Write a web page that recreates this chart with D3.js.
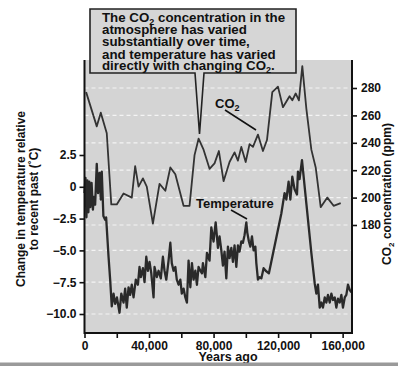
<!DOCTYPE html>
<html><head><meta charset="utf-8">
<script src="https://cdn.jsdelivr.net/npm/d3@7/dist/d3.min.js"></script>
<style>
body{margin:0;background:#fff;}
svg{display:block;font-family:"Liberation Sans",Arial,Helvetica,sans-serif;font-weight:bold;}
</style></head>
<body>
<svg id="c" width="398" height="366"></svg>
<script>
// ---------- data ----------
const co2Years = [1000, 7600, 10100, 13800, 16600, 20000, 24200, 29300, 31400, 33500, 36200, 38600, 42400, 46500, 50100, 53200, 56300, 61400, 65100, 68200, 70700, 73800, 77500, 80600, 83300, 86200, 89900, 93000, 95100, 97200, 99900, 102300, 104400, 107500, 110600, 113100, 116400, 119900, 123000, 127100, 128800, 130900, 132900, 135000, 137500, 140600, 143300, 146400, 150500, 154400, 158800];
const co2Values = [277, 252, 262, 247, 195, 195, 203, 200, 223, 208, 214, 208, 181, 210, 205, 222, 217, 194, 194, 231, 243, 235, 221, 225, 234, 212, 226, 233, 227, 237, 226, 239, 237, 246, 234, 242, 277, 281, 266, 274, 271, 276, 271, 296, 265, 235, 222, 193, 200, 194, 196];

const tempYears = [0, 600, 1200, 1800, 2400, 3000, 3600, 4400, 5200, 5800,
 6600, 7600, 8400, 9300, 10100, 10700, 11700, 12800, 13400, 14900,
 15900, 16900, 18000, 19000, 20100, 21700, 22800, 24200, 25200, 26200,
 27300, 28300, 29300, 30400, 31800, 33100, 34100, 34900, 36200, 37200,
 38300, 39300, 40300, 41400, 42800, 43400, 44800, 45900, 47300, 48600,
 49600, 50700, 52100, 53200, 54100, 55200, 56300, 57200, 58300, 59400,
 60300, 61400, 62500, 63500, 64500, 65600, 66600, 67600, 68700, 69700,
 70700, 71800, 72800, 73400, 74900, 75900, 77500, 78600, 80000, 81300,
 82700, 83700, 84800, 85800, 86800, 87900, 88900, 89900, 91000, 92000,
 93000, 94100, 95100, 96100, 97200, 98200, 99200, 100300, 100900, 101900,
 102800, 103800, 104800, 105900, 106500, 107500, 108500, 109600, 111000, 112300,
 114300, 122000, 124000, 125100, 126500, 127600, 128800, 130200, 131700, 132300,
 133300, 134800, 137500, 140600, 142700, 143700, 144700, 145800, 146800, 147800,
 148900, 149900, 150900, 152000, 153000, 154000, 155100, 156100, 157100, 158200,
 159200, 160200, 161300, 162300, 163300, 164400, 165400];
const tempValues = [-0.5, 0.7, -2.4, 0.5, -2.0, 0.4, -1.6, 0.3, -1.8, -0.8,
 -1.4, 1.8, -0.5, 1.1, -1.0, 1.2, -2.3, -2.6, -2.4, -5.5,
 -7.3, -9.4, -8.4, -9.2, -8.7, -9.9, -8.4, -9.1, -8.0, -9.5,
 -7.9, -8.5, -7.7, -8.7, -7.3, -7.7, -6.3, -7.1, -6.4, -7.5,
 -5.5, -6.6, -5.9, -6.8, -8.7, -6.3, -7.1, -6.6, -7.2, -5.5,
 -6.6, -7.3, -5.8, -4.4, -6.0, -6.6, -6.3, -7.3, -7.7, -7.3,
 -8.4, -8.0, -8.7, -9.1, -5.8, -7.9, -6.0, -7.3, -6.6, -7.7,
 -6.3, -6.6, -6.8, -6.0, -7.1, -5.2, -5.8, -3.2, -4.3, -2.8,
 -4.8, -3.9, -5.0, -6.2, -5.1, -7.2, -4.7, -5.6, -4.8, -5.9,
 -4.6, -6.3, -4.6, -5.1, -4.3, -4.4, -3.8, -2.8, -3.6, -4.3,
 -4.7, -3.9, -5.0, -4.7, -6.0, -7.3, -7.1, -7.2, -6.4, -6.6,
 -6.8, -2.1, -0.5, -1.0, 0.4, -1.0, 0.8, -0.2, -0.6, 1.2,
 0.6, 2.1, -1.3, -5.2, -7.6, -8.4, -7.7, -9.5, -9.1, -9.5,
 -8.7, -9.1, -8.5, -9.1, -8.4, -8.9, -8.7, -9.5, -8.8, -9.1,
 -8.5, -9.5, -8.7, -8.5, -7.7, -8.1, -8.3];

const xTicks = [0, 20000, 40000, 60000, 80000, 100000, 120000, 140000, 160000];
const xLabelTicks = [0, 40000, 80000, 120000, 160000];
const tempTicks = [2.5, 0, -2.5, -5, -7.5, -10];
const co2Ticks = [280, 260, 240, 220, 200, 180];
const gridTemp = [-5, -7.5, -10];
const calloutLines = [["The CO", "2", " concentration in the"], ["atmosphere has varied"], ["substantially over time,"], ["and temperature has varied"], ["directly with changing CO", "2", "."]];

// ---------- layout ----------
const L = 84.5, R = 352, T = 60, B = 333;
const svg = d3.select("#c");
const x = d3.scaleLinear().domain([0, 165800]).range([L, R]);
const yT = d3.scaleLinear().domain([-10, 2.5]).range([314, 155]);
const yC = d3.scaleLinear().domain([180, 280]).range([225, 88]);

// plot background
svg.append("rect").attr("x", L).attr("y", T).attr("width", R - L).attr("height", B - T).attr("fill", "#d4d4d4");

// gridlines
const grid = svg.append("g").attr("stroke", "#f4f4f4").attr("stroke-width", 1.2).attr("stroke-dasharray", "4,3");
co2Ticks.forEach(v => grid.append("line").attr("x1", L).attr("x2", R).attr("y1", yC(v)).attr("y2", yC(v)));
gridTemp.forEach(v => grid.append("line").attr("x1", L).attr("x2", R).attr("y1", yT(v)).attr("y2", yT(v)));

// lines
const co2Line = d3.line().x((d, i) => x(co2Years[i])).y(d => yC(d));
const tempLine = d3.line().x((d, i) => x(tempYears[i])).y(d => yT(d));
svg.append("path").attr("d", co2Line(co2Values)).attr("fill", "none").attr("stroke", "#333").attr("stroke-width", 1.8).attr("stroke-linejoin", "round");
svg.append("path").attr("d", tempLine(tempValues)).attr("fill", "none").attr("stroke", "#2a2a2a").attr("stroke-width", 2.3).attr("stroke-linejoin", "round");

// axes
const axL = svg.append("g").attr("transform", `translate(${L},0)`)
  .call(d3.axisLeft(yT).tickValues(tempTicks).tickSize(5).tickPadding(3)
    .tickFormat(d => d === 0 ? "0" : d3.format(".1f")(d)));
const axR = svg.append("g").attr("transform", `translate(${R},0)`)
  .call(d3.axisRight(yC).tickValues(co2Ticks).tickSize(5).tickPadding(4));
const axB = svg.append("g").attr("transform", `translate(0,${B})`)
  .call(d3.axisBottom(x).tickValues(xTicks).tickSize(5).tickPadding(3)
    .tickFormat(d => xLabelTicks.includes(d) ? d3.format(",")(d) : ""));
[axL, axR, axB].forEach(g => {
  g.select(".domain").remove();
  g.selectAll(".tick line").attr("stroke", "#111").attr("stroke-width", 1.6);
  g.selectAll(".tick text").attr("fill", "#111").attr("font-size", 12).attr("font-weight", "bold")
    .attr("font-family", "Liberation Sans, Arial, sans-serif");
});

// frame
const fr = svg.append("g").attr("stroke", "#111").attr("stroke-width", 2).attr("fill", "none");
fr.append("line").attr("x1", L).attr("x2", L).attr("y1", T).attr("y2", B + 1);
fr.append("line").attr("x1", R).attr("x2", R).attr("y1", T).attr("y2", B + 1);
fr.append("line").attr("x1", L).attr("x2", R).attr("y1", B).attr("y2", B);

// axis titles
svg.append("text").attr("transform", "translate(25,199) rotate(-90)").attr("text-anchor", "middle")
  .attr("font-size", 12).attr("fill", "#111").text("Change in temperature relative");
svg.append("text").attr("transform", "translate(38,199) rotate(-90)").attr("text-anchor", "middle")
  .attr("font-size", 12).attr("fill", "#111").text("to recent past (˚C)");
const rt = svg.append("text").attr("transform", "translate(391,194) rotate(-90)").attr("text-anchor", "middle")
  .attr("font-size", 12).attr("fill", "#111");
rt.append("tspan").text("CO");
rt.append("tspan").attr("font-size", 8).attr("dy", 3).text("2");
rt.append("tspan").attr("dy", -3).text(" concentration (ppm)");

svg.append("text").attr("x", 228).attr("y", 361).attr("text-anchor", "middle").attr("font-size", 12.5)
  .attr("fill", "#111").text("Years ago");
svg.append("rect").attr("x", 0).attr("y", 362.5).attr("width", 398).attr("height", 3.5).attr("fill", "#9a9a9a");

// series labels
const cl = svg.append("text").attr("x", 215).attr("y", 108).attr("font-size", 13).attr("fill", "#111");
cl.append("tspan").text("CO");
cl.append("tspan").attr("font-size", 9).attr("dy", 3).text("2");
svg.append("line").attr("x1", 225).attr("y1", 110).attr("x2", 256).attr("y2", 130).attr("stroke", "#111").attr("stroke-width", 1.5);
svg.append("text").attr("x", 196).attr("y", 208).attr("font-size", 13).attr("fill", "#111").text("Temperature");
svg.append("line").attr("x1", 231).attr("y1", 210).attr("x2", 247).attr("y2", 219).attr("stroke", "#111").attr("stroke-width", 1.5);

// callout
svg.append("path").attr("d", "M90,9 H296 V73 H204 L199.5,134 L195,73 H90 Z")
  .attr("fill", "#d6d6d6").attr("stroke", "#222").attr("stroke-width", 1.6).attr("stroke-linejoin", "miter");
const baselines = [22, 34.2, 46.4, 58.6, 70.4];
calloutLines.forEach((parts, i) => {
  const t = svg.append("text").attr("x", 102).attr("y", baselines[i]).attr("font-size", 13.3).attr("fill", "#111");
  parts.forEach((p, j) => {
    if (p === "2") { t.append("tspan").attr("font-size", 9).attr("dy", 2.5).text(p); }
    else { const s = t.append("tspan").text(p); if (j > 0) s.attr("dy", -2.5); }
  });
});
</script>
</body></html>
